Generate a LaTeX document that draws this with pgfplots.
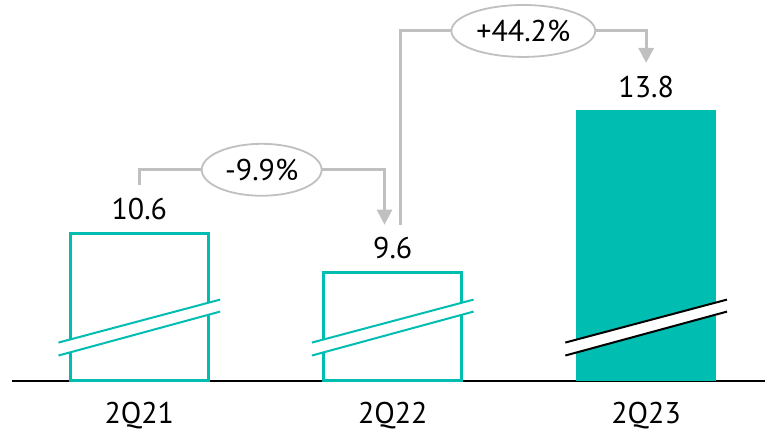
\documentclass[border=0pt]{standalone}
\usepackage{pgfplots}
\pgfplotsset{compat=1.18}
\usepackage{fontspec}
\setmainfont{PT Sans}
\usetikzlibrary{arrows.meta,shapes.geometric}
\definecolor{teal1}{RGB}{0,189,178}
\definecolor{lgray}{RGB}{192,192,192}
\newcommand{\lblfont}{\fontsize{15}{18}\selectfont}
\begin{document}
\begin{tikzpicture}
\begin{axis}[
  scale only axis, width=377pt, height=190.5pt,
  xmin=-0.5025, xmax=2.469, ymin=0, ymax=9.84,
  axis x line*=bottom, axis y line=none,
  x axis line style={black, line width=1pt, -},
  xtick={0,1,2}, xticklabels={2Q21,2Q22,2Q23},
  major tick length=0pt, ytick=\empty,
  xticklabel style={anchor=north, inner sep=0pt, yshift=-10.5pt, font=\lblfont},
  clip=false,
  ybar,
  y filter/.expression={y-6.8},
  point meta=rawy,
  nodes near coords={\pgfmathprintnumber[fixed,precision=1,fixed zerofill]{\pgfplotspointmeta}},
  every node near coord/.append style={anchor=south, inner sep=0pt, yshift=6pt, font=\lblfont, text=black},
  /pgf/number format/assume math mode=true,
]
\addplot[draw=teal1, line width=1.5pt, fill=white, bar shift=0pt, bar width=0.544] coordinates {(0,10.6) (1,9.6)};
\addplot[draw=none, fill=teal1, bar shift=0pt, bar width=0.552] coordinates {(2,13.8)};

% break marks
\fill[white] (axis cs:-0.319,0.981) -- (axis cs:0.319,2.092) -- (axis cs:0.319,1.782) -- (axis cs:-0.319,0.646) -- cycle;
\draw[teal1, line width=1pt] (axis cs:-0.319,0.981) -- (axis cs:0.319,2.092);
\draw[teal1, line width=1pt] (axis cs:-0.319,0.646) -- (axis cs:0.319,1.782);
\fill[white] (axis cs:0.681,0.981) -- (axis cs:1.319,2.092) -- (axis cs:1.319,1.782) -- (axis cs:0.681,0.646) -- cycle;
\draw[teal1, line width=1pt] (axis cs:0.681,0.981) -- (axis cs:1.319,2.092);
\draw[teal1, line width=1pt] (axis cs:0.681,0.646) -- (axis cs:1.319,1.782);
\fill[white] (axis cs:1.681,0.981) -- (axis cs:2.319,2.092) -- (axis cs:2.319,1.782) -- (axis cs:1.681,0.646) -- cycle;
\draw[black, line width=1pt] (axis cs:1.681,0.981) -- (axis cs:2.319,2.092);
\draw[black, line width=1pt] (axis cs:1.681,0.646) -- (axis cs:2.319,1.782);

% annotations
\draw[lgray, line width=1.5pt] (axis cs:0,5.062) -- (axis cs:0,5.449) -- (axis cs:0.2463,5.449);
\draw[lgray, line width=1.5pt, -{Triangle[width=7.5pt,length=7.5pt]}] (axis cs:0.7192,5.449) -- (axis cs:0.9675,5.449) -- (axis cs:0.9675,4.029);
\node[ellipse, draw=lgray, line width=0.9pt, fill=white, minimum width=60pt, minimum height=26pt, inner sep=0pt, font=\lblfont] at (axis cs:0.4828,5.449) {-9.9\%};

\draw[lgray, line width=1.5pt] (axis cs:1.0306,4.029) -- (axis cs:1.0306,9.039) -- (axis cs:1.2315,9.039);
\draw[lgray, line width=1.5pt, -{Triangle[width=7.5pt,length=7.5pt]}] (axis cs:1.799,9.039) -- (axis cs:2,9.039) -- (axis cs:2,8.213);
\node[ellipse, draw=lgray, line width=0.9pt, fill=white, minimum width=72pt, minimum height=26pt, inner sep=0pt, font=\lblfont] at (axis cs:1.5153,9.039) {+44.2\%};

\path (axis cs:-0.5498,-1.291) rectangle (axis cs:2.469,9.84);
\end{axis}
\end{tikzpicture}
\end{document}
